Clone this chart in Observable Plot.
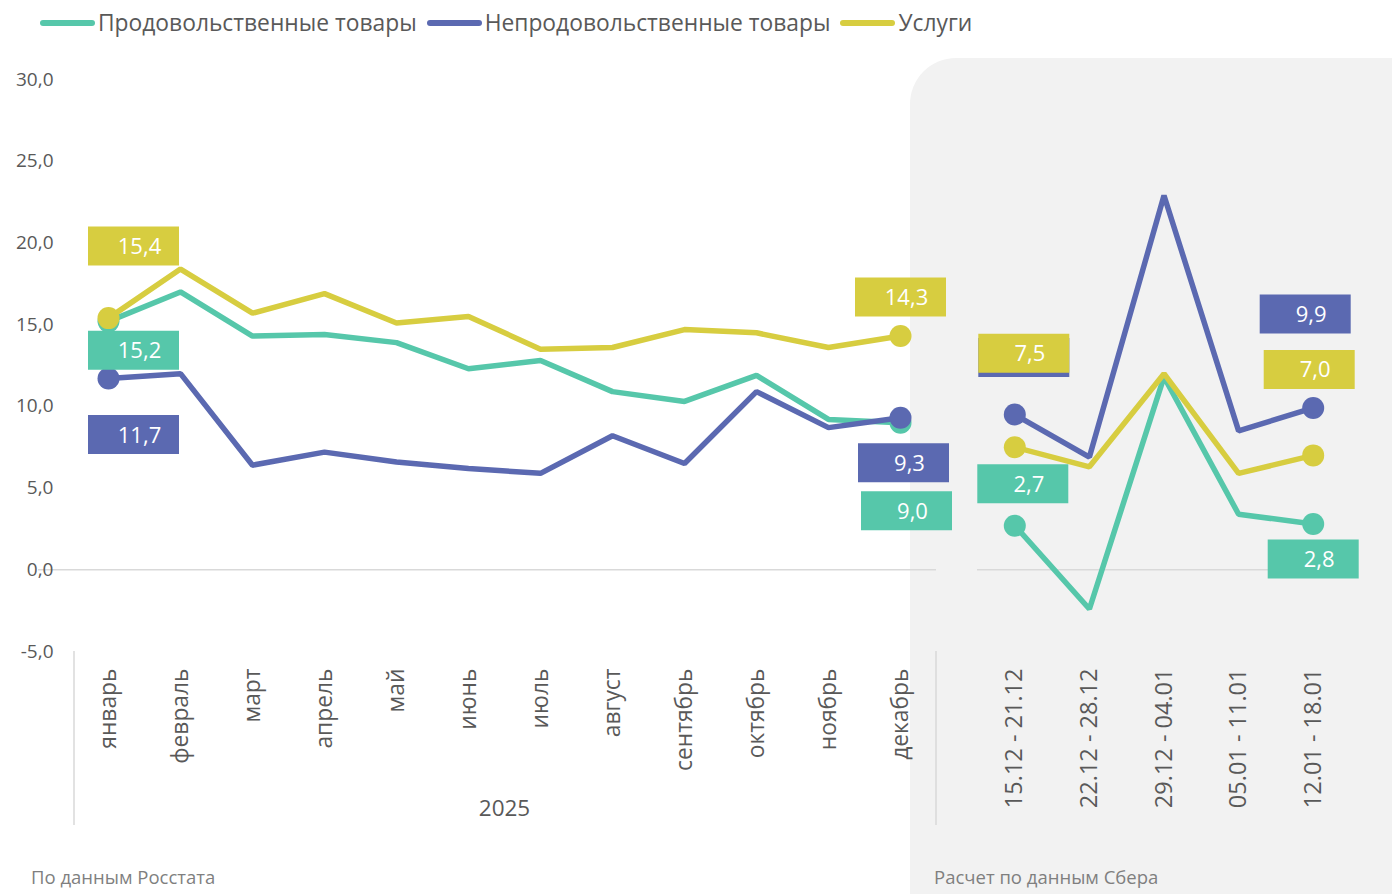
<!DOCTYPE html>
<html><head><meta charset="utf-8">
<script src="https://cdn.jsdelivr.net/npm/d3@7"></script>
<script src="https://cdn.jsdelivr.net/npm/@observablehq/plot@0.6"></script>
<style>
body{margin:0;background:#fff;font-family:"Open Sans",sans-serif;}
#wrap{position:relative;width:1392px;height:894px;overflow:hidden;}
#grey{position:absolute;left:910px;top:58px;width:540px;height:900px;background:#f2f2f2;border-radius:46px;}
#legend{position:absolute;top:7px;left:40px;display:flex;align-items:center;font-size:22.8px;color:#595959;white-space:nowrap;}
#legend .item{display:flex;align-items:center;margin-right:10px;}
#legend .sw{width:55px;height:6px;border-radius:3px;margin-right:3px;}
.cap{position:absolute;top:866px;font-size:18.5px;line-height:22px;color:#7f7f7f;white-space:nowrap;}
#left,#right{position:absolute;top:0;}
#left{left:0;} #right{left:950px;}
svg{overflow:visible;}
</style></head>
<body><div id="wrap"><div id="grey"></div><div id="left"></div><div id="right"></div><div id="legend"></div>
<div class="cap" id="cap1" style="left:31px"></div><div class="cap" id="cap2" style="left:934px"></div></div>
<script>
const months = ["январь","февраль","март","апрель","май","июнь","июль","август","сентябрь","октябрь","ноябрь","декабрь"];
const weeks = ["15.12 - 21.12","22.12 - 28.12","29.12 - 04.01","05.01 - 11.01","12.01 - 18.01"];
const seriesNames = ["Продовольственные товары","Непродовольственные товары","Услуги"];
const seriesColors = ["#56c7aa","#5b69b1","#d7cd40"];
const yearLabel = "2025";
const captionLeft = "По данным Росстата";
const captionRight = "Расчет по данным Сбера";
const yTicks = [-5,0,5,10,15,20,25,30];

const foodMonthly     = [15.2,17.0,14.3,14.4,13.9,12.3,12.8,10.9,10.3,11.9,9.2,9.0];
const nonFoodMonthly  = [11.7,12.0,6.4,7.2,6.6,6.2,5.9,8.2,6.5,10.9,8.7,9.3];
const servicesMonthly = [15.4,18.4,15.7,16.9,15.1,15.5,13.5,13.6,14.7,14.5,13.6,14.3];
const foodWeekly      = [2.7,-2.4,11.8,3.4,2.8];
const nonFoodWeekly   = [9.5,6.9,22.9,8.5,9.9];
const servicesWeekly  = [7.5,6.3,12.0,5.9,7.0];

// legend
const leg = document.getElementById("legend");
seriesNames.forEach((n,i)=>{
  const it=document.createElement("div");it.className="item";
  it.innerHTML=`<div class="sw" style="background:${seriesColors[i]}"></div><span>${n}</span>`;
  leg.appendChild(it);
});
document.getElementById("cap1").textContent=captionLeft;
document.getElementById("cap2").textContent=captionRight;

const fmt = v => v.toFixed(1).replace(".",",");
function toRows(cats, arrays){
  const rows=[];
  arrays.forEach((arr,s)=>arr.forEach((v,i)=>rows.push({series:seriesNames[s],cat:cats[i],value:v,i})));
  return rows;
}
const monthlyRows = toRows(months,[foodMonthly,nonFoodMonthly,servicesMonthly]);
const weeklyRows = toRows(weeks,[foodWeekly,nonFoodWeekly,servicesWeekly]);

const boxSymbol = {draw(ctx){ctx.rect(-45.5,-19.5,91,39);}};
// label placement: series index, category index, pixel offsets from the point; hidden = box covered by another label
const monthlyLabels = [
  {s:0,i:0,dx:25,dy:29},{s:1,i:0,dx:25,dy:56},{s:2,i:0,dx:25,dy:-72},
  {s:0,i:11,dx:6,dy:88},{s:1,i:11,dx:3,dy:45},{s:2,i:11,dx:0,dy:-39}
];
const weeklyLabels = [
  {s:0,i:0,dx:8,dy:-42},{s:1,i:0,dx:9,dy:-57,hidden:true},{s:2,i:0,dx:9,dy:-94},
  {s:0,i:4,dx:0,dy:35},{s:1,i:4,dx:-8,dy:-94},{s:2,i:4,dx:-4,dy:-86}
];

function labelMarks(rows, labels){
  return labels.flatMap(l=>{
    const d = rows.filter(r=>r.series===seriesNames[l.s] && r.i===l.i);
    const m = [Plot.dot(d,{x:"cat",y:"value",symbol:boxSymbol,r:10,fill:seriesColors[l.s],stroke:null,dx:l.dx,dy:l.dy})];
    if(!l.hidden) m.push(Plot.text(d,{x:"cat",y:"value",text:r=>fmt(r.value),fill:"white",fontSize:22,dx:l.dx+6,dy:l.dy+1}));
    return m;
  });
}

function seriesMarks(rows){
  return seriesNames.flatMap((n,s)=>{
    const d = rows.filter(r=>r.series===n);
    const ends = [d[0], d[d.length-1]];
    return [
      Plot.line(d,{x:"cat",y:"value",stroke:seriesColors[s],strokeWidth:5.5,strokeLinejoin:"miter"}),
      Plot.dot(ends,{x:"cat",y:"value",r:11,fill:seriesColors[s],stroke:null})
    ];
  });
}

const yScale = {domain:[-5,30],range:[651,79]};
const common = {height:894,marginTop:79,marginBottom:243,style:{background:"transparent",fontFamily:"'Open Sans',sans-serif",color:"#595959"}};

const separators = (index, scales, values, dims) => {
  const g = d3.create("svg:g").attr("stroke","#d9d9d9").attr("stroke-width",1.5);
  const y0 = scales.y(-5);
  [dims.marginLeft+2, dims.width-dims.marginRight].forEach(x=>{
    g.append("line").attr("x1",x).attr("x2",x).attr("y1",y0).attr("y2",y0+174);
  });
  return g.node();
};

const left = Plot.plot({
  ...common, width:960, marginLeft:72, marginRight:24,
  x:{type:"band",domain:months,padding:0,round:false},
  y:{...yScale},
  marks:[
    Plot.ruleY([0],{stroke:"#d9d9d9",strokeWidth:1.5,x1:()=>months[0],x2:()=>months[11],insetLeft:-34}),
    separators,
    Plot.axisY({ticks:yTicks,tickFormat:fmt,tickSize:0,tickPadding:19,fontSize:19,label:null,fill:"#595959"}),
    Plot.axisX({tickRotate:-90,tickSize:0,tickPadding:17,fontSize:22.8,label:null,fill:"#595959"}),
    Plot.text([yearLabel],{frameAnchor:"bottom",dy:164,fontSize:22.5,fill:"#595959"}),
    ...seriesMarks(monthlyRows),
    ...labelMarks(monthlyRows, monthlyLabels)
  ]
});
document.getElementById("left").appendChild(left);

const right = Plot.plot({
  ...common, width:442, marginLeft:27, marginRight:42,
  x:{type:"band",domain:weeks,padding:0,round:false},
  y:{...yScale, axis:null},
  marks:[
    Plot.ruleY([0],{stroke:"#d9d9d9",strokeWidth:1.5}),
    Plot.axisX({tickRotate:-90,tickSize:0,tickPadding:17,fontSize:23.5,label:null,fill:"#595959"}),
    ...seriesMarks(weeklyRows),
    ...labelMarks(weeklyRows, weeklyLabels)
  ]
});
document.getElementById("right").appendChild(right);
</script></body></html>
